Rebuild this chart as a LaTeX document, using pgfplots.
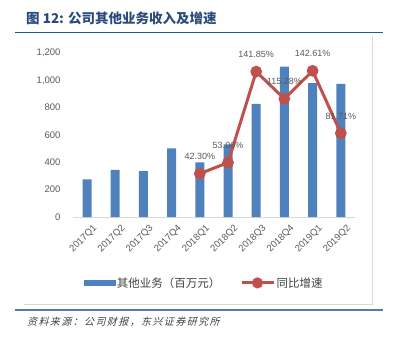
\documentclass[border=0pt]{standalone}
\usepackage{fontspec}
\setmainfont{Liberation Sans}
\newfontfamily\cjk{Noto Sans CJK SC}
\newfontfamily\cjkit[FakeSlant=0.25,LetterSpace=14]{Noto Sans CJK SC}
\usepackage{pgfplots}
\pgfplotsset{compat=1.18}
\definecolor{barblue}{HTML}{4F81BD}
\definecolor{linered}{HTML}{C0504D}
\definecolor{tickgray}{HTML}{595959}
\definecolor{axisgray}{HTML}{D9D9D9}
\definecolor{titleblue}{HTML}{2A4B7C}
\definecolor{titleline}{HTML}{1F5C99}
\definecolor{bottomline}{HTML}{4E7EB0}
\definecolor{srcgray}{HTML}{404040}
\begin{document}
\begin{tikzpicture}[x=1pt,y=1pt]
\useasboundingbox (0,0) rectangle (393,-345);
\node[anchor=west, text=titleblue, font=\cjk\bfseries\fontsize{13.5}{13.5}\selectfont, inner sep=0] at (26,-18) {图 12: 公司其他业务收入及增速};
\draw[titleline, line width=1.5pt] (15,-32.3) -- (383,-32.3);
\draw[axisgray, line width=0.8pt] (24,-304) -- (372.3,-304) -- (372.3,-35.7);
\draw[bottomline, line width=1.5pt] (15,-310) -- (383,-310);
\node[anchor=west, text=srcgray, font=\cjkit\fontsize{10}{10}\selectfont, inner sep=0] at (27,-321.7) {资料来源：公司财报，东兴证券研究所};

\begin{axis}[
  at={(72.9pt,-217pt)}, anchor=south west,
  scale only axis, width=282pt, height=164pt,
  xmin=-0.5, xmax=9.5, ymin=0, ymax=1200,
  ytick={0,200,...,1200},
  xtick={0,...,9},
  xticklabels={2017Q1,2017Q2,2017Q3,2017Q4,2018Q1,2018Q2,2018Q3,2018Q4,2019Q1,2019Q2},
  axis x line=bottom, axis y line=left,
  axis line style={-},
  y axis line style={draw=none},
  x axis line style={draw=axisgray, line width=0.8pt},
  major tick length=0pt,
  tick style={draw=none},
  /pgf/number format/assume math mode=true,
  /pgf/number format/1000 sep={,},
  yticklabel style={font=\fontsize{9.5}{10}\selectfont, text=tickgray, anchor=east, inner sep=0pt, xshift=-12.2pt},
  xticklabel style={font=\fontsize{9.5}{10}\selectfont, text=tickgray, rotate=45, anchor=east, inner sep=0pt, yshift=-13pt, xshift=-1pt},
]
\addplot[ybar, bar width=9pt, fill=barblue, draw=none] coordinates {
(0,276) (1,344) (2,336) (3,502) (4,400) (5,532) (6,827) (7,1100) (8,980) (9,975)};
\end{axis}

\begin{axis}[
  at={(72.9pt,-217pt)}, anchor=south west,
  scale only axis, width=282pt, height=164pt,
  xmin=-0.5, xmax=9.5, ymin=0, ymax=160,
  hide x axis, hide y axis,
  clip=false,
  legend columns=2,
  legend style={at={(axis description cs:0.039,-0.402)}, anchor=west, draw=none, fill=none,
    inner sep=0pt, font=\cjk\fontsize{11.5}{11.5}\selectfont, text=srcgray,
    /tikz/every even column/.append style={column sep=18pt},
    nodes={inner sep=1.5pt}},
]
\addlegendimage{legend image code/.code={\fill[barblue] (0pt,-2.7pt) rectangle (31pt,2.7pt);}}
\addlegendentry{其他业务（百万元）}
\addplot[linered, line width=3pt, mark=*, mark size=4.3pt,
  mark options={fill=linered, draw=none},
  nodes near coords, point meta=explicit symbolic,
  every node near coord/.append style={text=tickgray, font=\fontsize{9}{9}\selectfont, anchor=center, yshift=17pt, inner sep=0pt},
  legend image code/.code={\draw[linered, line width=3pt] (0pt,0pt) -- (32pt,0pt); \fill[linered] (16pt,0pt) circle (4pt);}
] coordinates {
(4,42.30) [42.30\%]
(5,53.06) [53.06\%]
(6,141.85) [141.85\%]
(7,115.28) [115.28\%]
(8,142.61) [142.61\%]
(9,81.71) [81.71\%]
};
\addlegendentry{同比增速}
\end{axis}
\end{tikzpicture}
\end{document}
